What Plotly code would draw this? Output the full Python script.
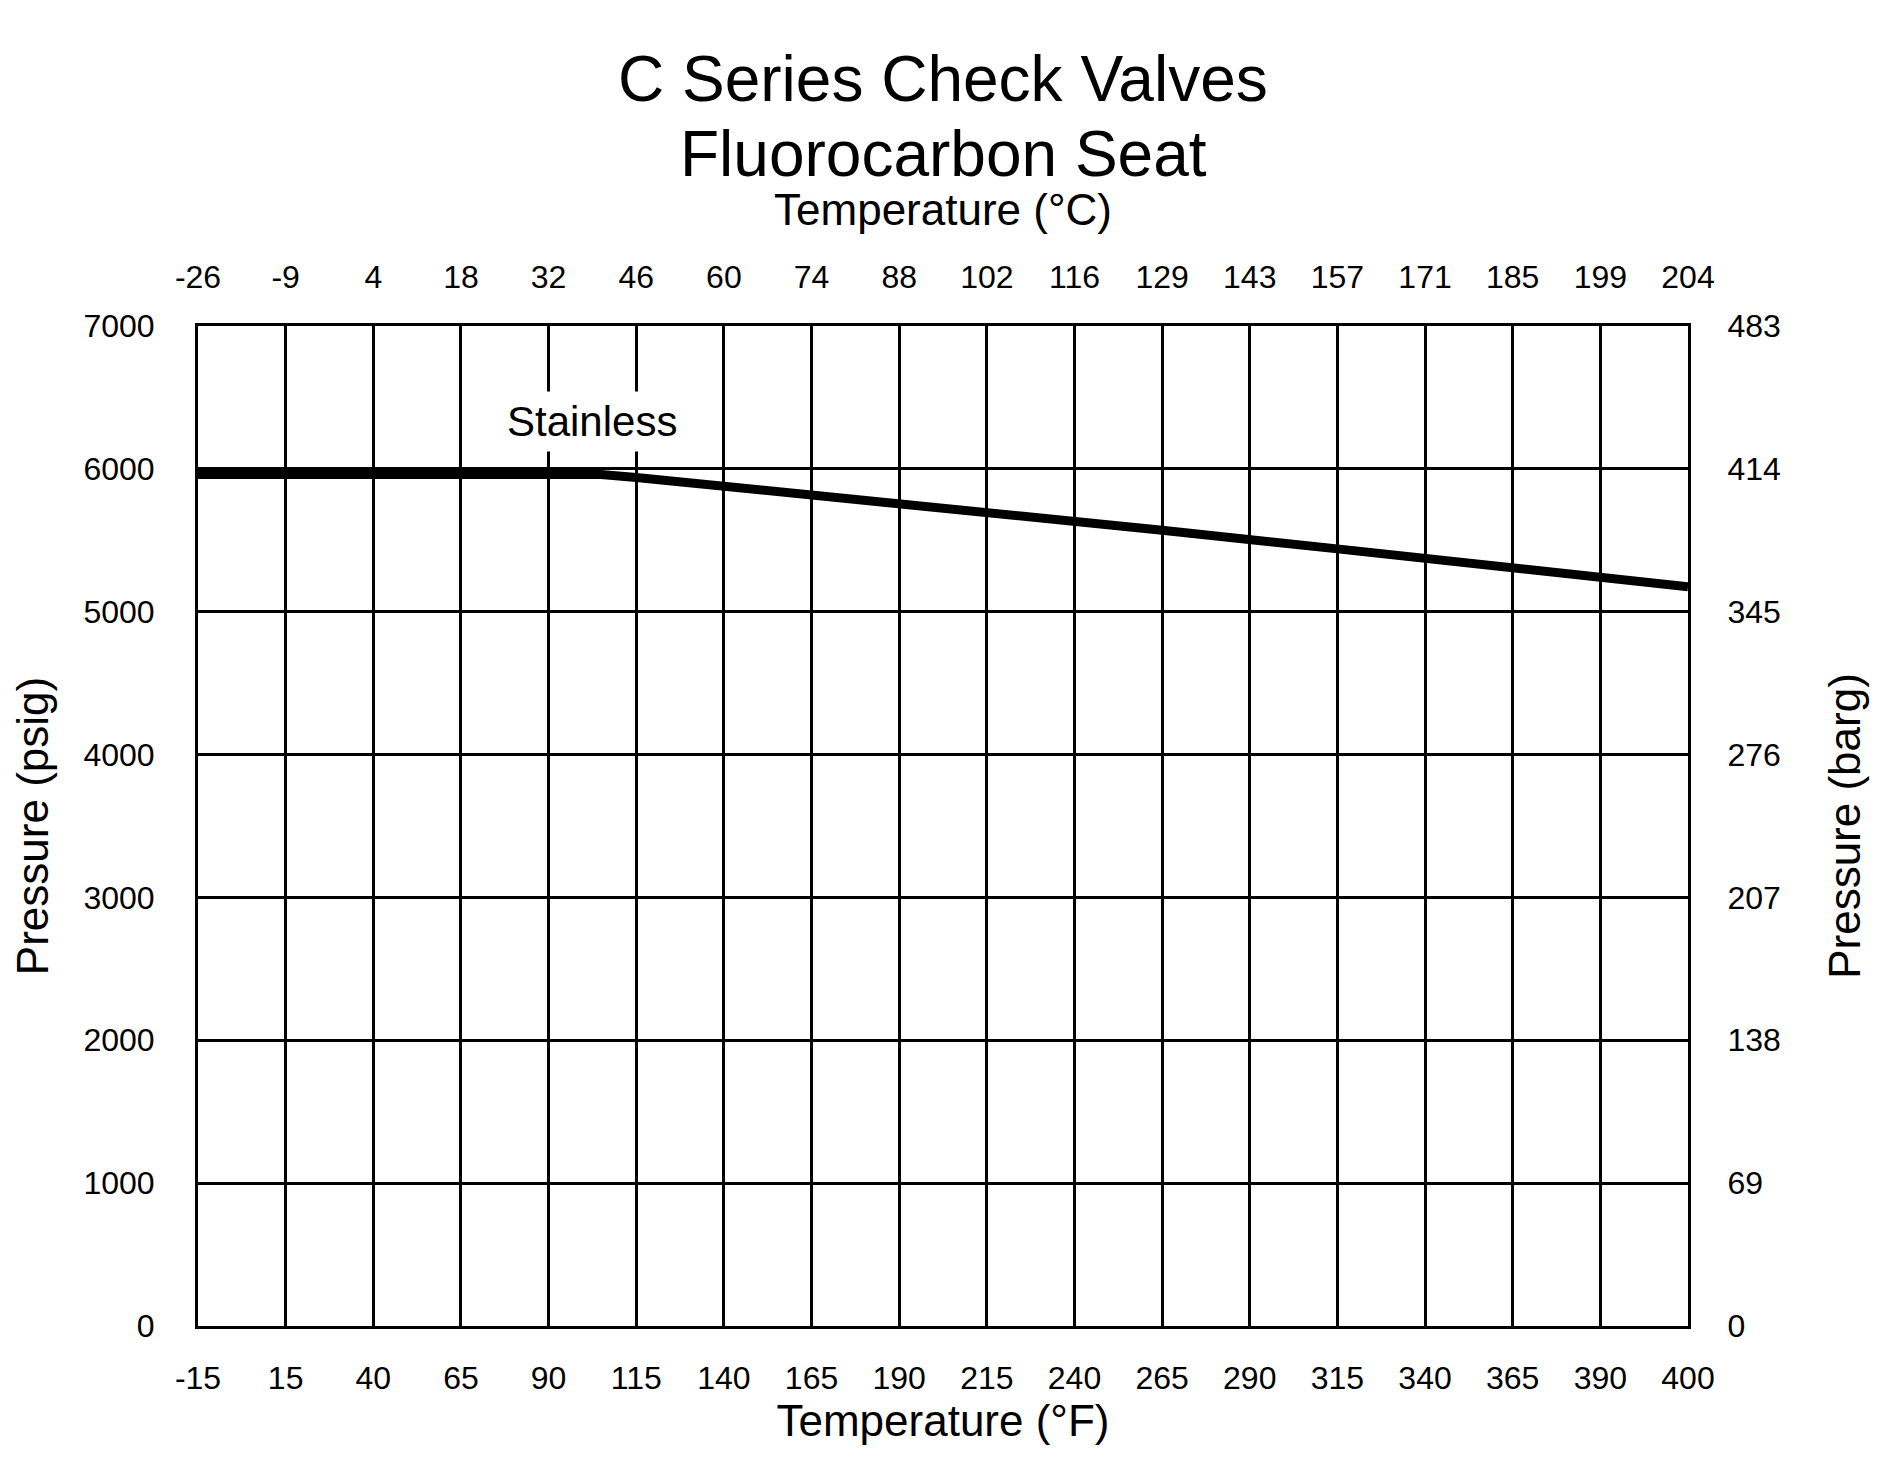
import numpy as np
import plotly.graph_objects as go

# axis ticks (gridlines are evenly spaced, so the x axis is positional)
temp_f_ticks = [-15, 15, 40, 65, 90, 115, 140, 165, 190, 215, 240, 265, 290, 315, 340, 365, 390, 400]
temp_c_labels = ["-26", "-9", "4", "18", "32", "46", "60", "74", "88", "102", "116",
                 "129", "143", "157", "171", "185", "199", "204"]
psig_ticks = [0, 1000, 2000, 3000, 4000, 5000, 6000, 7000]
barg_labels = ["0", "69", "138", "207", "276", "345", "414", "483"]

# rating curve
curve_f = [-15, 15, 40, 65, 90, 105, 115, 140, 190, 265, 315, 390, 400]
curve_psig = [5960, 5960, 5960, 5960, 5960, 5960, 5940, 5880, 5760, 5570, 5440, 5230, 5175]

# equal-spaced positions: 400 sits at the last gridline after 390
tick_pos = list(range(len(temp_f_ticks)))
pos_f = temp_f_ticks[:-1] + [415]
curve_x = np.interp(curve_f, pos_f, tick_pos)
curve_x[-1] = 17

FONT = "Liberation Sans, Arial, Helvetica, sans-serif"

fig = go.Figure()
fig.add_trace(go.Scatter(x=curve_x, y=curve_psig, mode="lines",
                         line=dict(color="black", width=9), showlegend=False,
                         hoverinfo="skip"))
fig.add_trace(go.Scatter(x=[0, 17], y=[0, 7000], xaxis="x2", yaxis="y2",
                         mode="markers", marker=dict(opacity=0), showlegend=False,
                         hoverinfo="skip"))

axis_common = dict(showline=True, linecolor="black", linewidth=3, mirror=False,
                   zeroline=False, ticks="", tickfont=dict(size=32, color="black"))

fig.add_annotation(x=4.5, y=6330, text="Stainless", showarrow=False,
                   font=dict(size=42, color="black", family=FONT),
                   bgcolor="white", borderpad=6)
fig.add_annotation(x=0.5, y=1.285, xref="paper", yref="paper", text="C Series Check Valves",
                   showarrow=False, font=dict(size=64, color="black", family=FONT))
fig.add_annotation(x=0.5, y=1.21, xref="paper", yref="paper", text="Fluorocarbon Seat",
                   showarrow=False, font=dict(size=64, color="black", family=FONT))

fig.update_layout(
    width=1890, height=1478,
    paper_bgcolor="white", plot_bgcolor="white",
    font=dict(family=FONT, color="black"),
    margin=dict(l=190, r=210, t=318, b=160),
    xaxis=dict(range=[0, 17], tickvals=tick_pos, ticktext=[str(t) for t in temp_f_ticks],
               showgrid=True, gridcolor="black", gridwidth=3, ticklabelstandoff=22,
               title=dict(text="Temperature (°F)", font=dict(size=44), standoff=4),
               **axis_common),
    xaxis2=dict(range=[0, 17], tickvals=tick_pos, ticktext=temp_c_labels, overlaying="x",
                side="top", showgrid=False, ticklabelstandoff=22,
                title=dict(text="Temperature (°C)", font=dict(size=44), standoff=20),
                **axis_common),
    yaxis=dict(range=[0, 7000], tickvals=psig_ticks, ticktext=[str(v) for v in psig_ticks],
               showgrid=True, gridcolor="black", gridwidth=3, ticklabelstandoff=34,
               title=dict(text="Pressure (psig)", font=dict(size=44), standoff=22),
               **axis_common),
    yaxis2=dict(range=[0, 7000], tickvals=psig_ticks, ticktext=barg_labels, overlaying="y",
                side="right", showgrid=False, ticklabelstandoff=30,
                title=dict(text="Pressure (barg)", font=dict(size=44), standoff=50),
                **axis_common),
)

fig.write_html("out.html")
